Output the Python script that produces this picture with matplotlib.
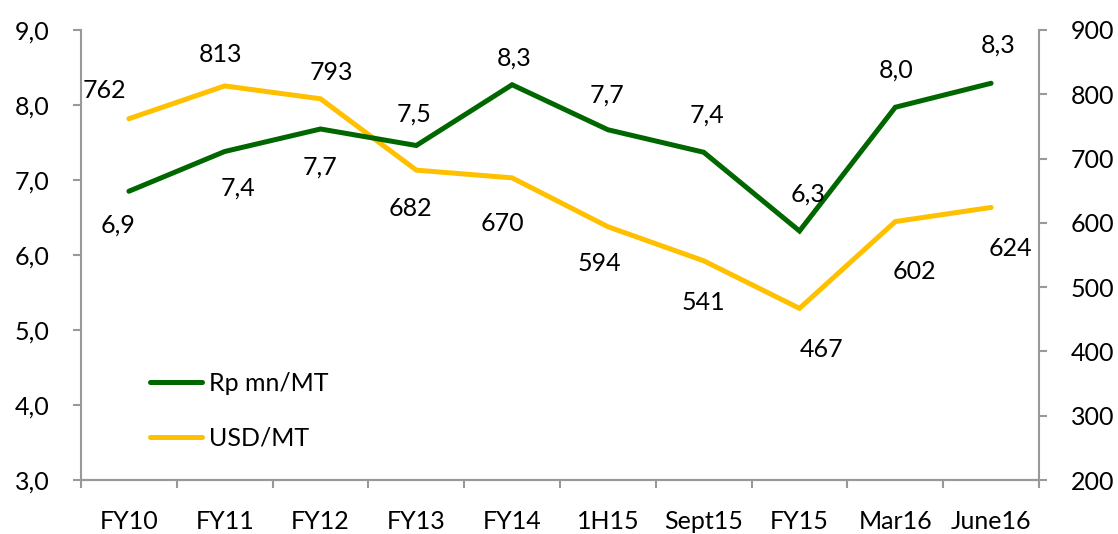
import matplotlib
matplotlib.use("Agg")
import matplotlib.pyplot as plt
import numpy as np

categories = ["FY10", "FY11", "FY12", "FY13", "FY14", "1H15", "Sept15", "FY15", "Mar16", "June16"]
rp_values = [6.85, 7.38, 7.68, 7.46, 8.27, 7.67, 7.37, 6.32, 7.97, 8.29]
rp_labels = ["6,9", "7,4", "7,7", "7,5", "8,3", "7,7", "7,4", "6,3", "8,0", "8,3"]
usd_values = [762, 813, 793, 682, 670, 594, 541, 467, 602, 624]
usd_labels = ["762", "813", "793", "682", "670", "594", "541", "467", "602", "624"]
left_ticks = [3.0, 4.0, 5.0, 6.0, 7.0, 8.0, 9.0]
left_tick_labels = ["3,0", "4,0", "5,0", "6,0", "7,0", "8,0", "9,0"]
right_ticks = [200, 300, 400, 500, 600, 700, 800, 900]

# label offsets in pixels (dx, dy), styling only
rp_off = [(-11, -34), (13, -37), (0, -38), (-2, 31), (2, 27), (-1, 35), (3, 37), (9, 37), (1, 37), (7, 38)]
usd_off = [(-24, 28), (-4, 31), (11, 26), (-6, -38), (-10, -46), (-9, -37), (0, -42), (22, -41), (19, -50), (19, -41)]

FONT = "Lato"
plt.rcParams["font.family"] = [FONT, "DejaVu Sans"]
FS = 18
GREEN = "#006600"
YELLOW = "#FFC000"
AXC = "#999999"

fig = plt.figure(figsize=(11.18, 5.34), dpi=100)
ax = fig.add_axes([81/1118, 54/534, 958/1118, 450/534])
ax2 = ax.twinx()

x = np.arange(len(categories))
l1, = ax.plot(x, rp_values, color=GREEN, lw=3.6, solid_capstyle="round", solid_joinstyle="miter", zorder=3)
l2, = ax2.plot(x, usd_values, color=YELLOW, lw=3.6, solid_capstyle="round", solid_joinstyle="miter", zorder=3)

ax.set_xlim(-0.5, len(categories) - 0.5)
ax.set_ylim(3.0, 9.0)
ax2.set_ylim(200, 900)

for xi, v, lab, (dx, dy) in zip(x, rp_values, rp_labels, rp_off):
    ax.annotate(lab, (xi, v), xytext=(dx, dy), textcoords="offset pixels",
                ha="center", va="center", fontsize=FS, color="black")
for xi, v, lab, (dx, dy) in zip(x, usd_values, usd_labels, usd_off):
    ax2.annotate(lab, (xi, v), xytext=(dx, dy), textcoords="offset pixels",
                 ha="center", va="center", fontsize=FS, color="black")

for a in (ax, ax2):
    a.spines["top"].set_visible(False)
    for s in a.spines.values():
        s.set_color(AXC)
        s.set_linewidth(1.5)
ax.spines["right"].set_visible(False)
ax2.spines["left"].set_visible(False)

ax.set_yticks(left_ticks)
ax.set_yticklabels(left_tick_labels)
ax.tick_params(axis="y", direction="out", length=5.8, width=1.5, color=AXC, labelsize=FS, pad=17)
ax2.set_yticks(right_ticks)
ax2.tick_params(axis="y", direction="out", length=5.8, width=1.5, color=AXC, labelsize=FS, pad=17)

ax.set_xticks(x)
ax.set_xticklabels(categories)
ax.tick_params(axis="x", which="major", length=0, labelsize=FS, pad=21.5)
ax.set_xticks(np.arange(-0.5, len(categories)), minor=True)
ax.tick_params(axis="x", which="minor", direction="out", length=5.8, width=1.5, color=AXC)

leg = ax.legend([l1, l2], ["Rp mn/MT", "USD/MT"], loc="upper left",
                bbox_to_anchor=(0.072, 0.24), frameon=False, fontsize=FS,
                handlelength=2.1, handletextpad=0.28, labelspacing=1.27, borderaxespad=0,
                borderpad=0)
ax.set_zorder(ax2.get_zorder() + 1)
ax.patch.set_visible(False)

fig.savefig("out.png", dpi=100)
